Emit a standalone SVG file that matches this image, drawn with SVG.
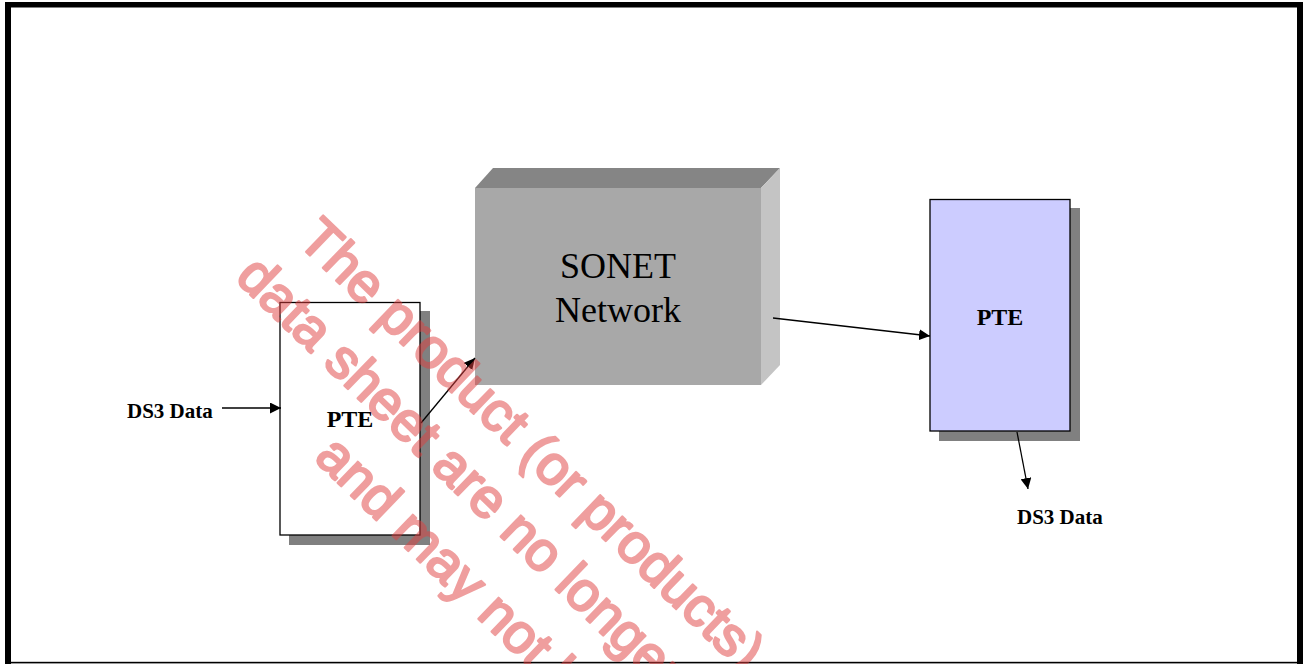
<svg xmlns="http://www.w3.org/2000/svg" width="1303" height="664" viewBox="0 0 1303 664">
<style>
.lbl{font-family:"Liberation Serif","Times New Roman",serif;font-weight:bold;fill:#000}
.big{font-family:"Liberation Serif","Times New Roman",serif;font-size:36px;fill:#000}
.box{stroke:#000;stroke-width:1.3}
.shadow{fill:#808080}
.conn{stroke:#000;stroke-width:1.3;fill:none;marker-end:url(#ah)}
.wm{font-family:"Liberation Sans",Arial,sans-serif;font-size:55px;fill:rgb(224,64,64);stroke:rgb(224,64,64);stroke-width:2.4;stroke-linejoin:round}
</style>
<defs>
<marker id="ah" markerUnits="userSpaceOnUse" markerWidth="11" markerHeight="11" refX="11" refY="5.5" orient="auto">
<path d="M0,0 L11,5.5 L0,11 z" fill="#000"/>
</marker>
</defs>
<rect x="0" y="0" width="1303" height="664" fill="#fff"/>
<g id="frame" fill="#000">
<rect x="5" y="2" width="1298" height="5.5"/>
<rect x="5" y="2" width="6" height="662"/>
<rect x="1297" y="2" width="6" height="662"/>
<rect x="5" y="661.8" width="1298" height="1.6"/>
</g>
<g id="sonet">
<polygon points="475,188 493,168 780,168 761,188" fill="#858585"/>
<polygon points="761,188 780,168 780,365 761,385" fill="#c4c4c4"/>
<rect x="475" y="188" width="286" height="197" fill="#a8a8a8"/>
<text class="big" x="618" y="278" text-anchor="middle">SONET</text>
<text class="big" x="618" y="322" text-anchor="middle">Network</text>
</g>
<g id="pte-left">
<rect class="shadow" x="289" y="311" width="141" height="234"/>
<rect class="box" x="280" y="302.5" width="140" height="232.5" fill="#fff"/>
<text class="lbl" x="350" y="427" font-size="24" text-anchor="middle">PTE</text>
</g>
<g id="pte-right">
<rect class="shadow" x="939" y="208" width="141" height="233"/>
<rect class="box" x="930" y="199.5" width="140" height="231.5" fill="#ccccff"/>
<text class="lbl" x="1000" y="325" font-size="24" text-anchor="middle">PTE</text>
</g>
<g id="ds3-in">
<text class="lbl" x="127" y="418" font-size="21">DS3 Data</text>
</g>
<g id="ds3-out">
<text class="lbl" x="1017" y="524" font-size="21">DS3 Data</text>
</g>
<g id="connectors">
<line class="conn" x1="222" y1="408" x2="281" y2="408"/>
<line class="conn" x1="421" y1="423" x2="475" y2="358"/>
<line class="conn" x1="773" y1="318" x2="930" y2="336"/>
<line class="conn" x1="1017" y1="432" x2="1028" y2="489"/>
</g>
<g id="watermark" opacity="0.5">
<text class="wm" transform="translate(296,242) rotate(44)">The product (or products)</text>
<text class="wm" transform="translate(234,279) rotate(44)">data sheet are no longer</text>
<text class="wm" transform="translate(313,459) rotate(44)">and may not be</text>
</g>
</svg>
